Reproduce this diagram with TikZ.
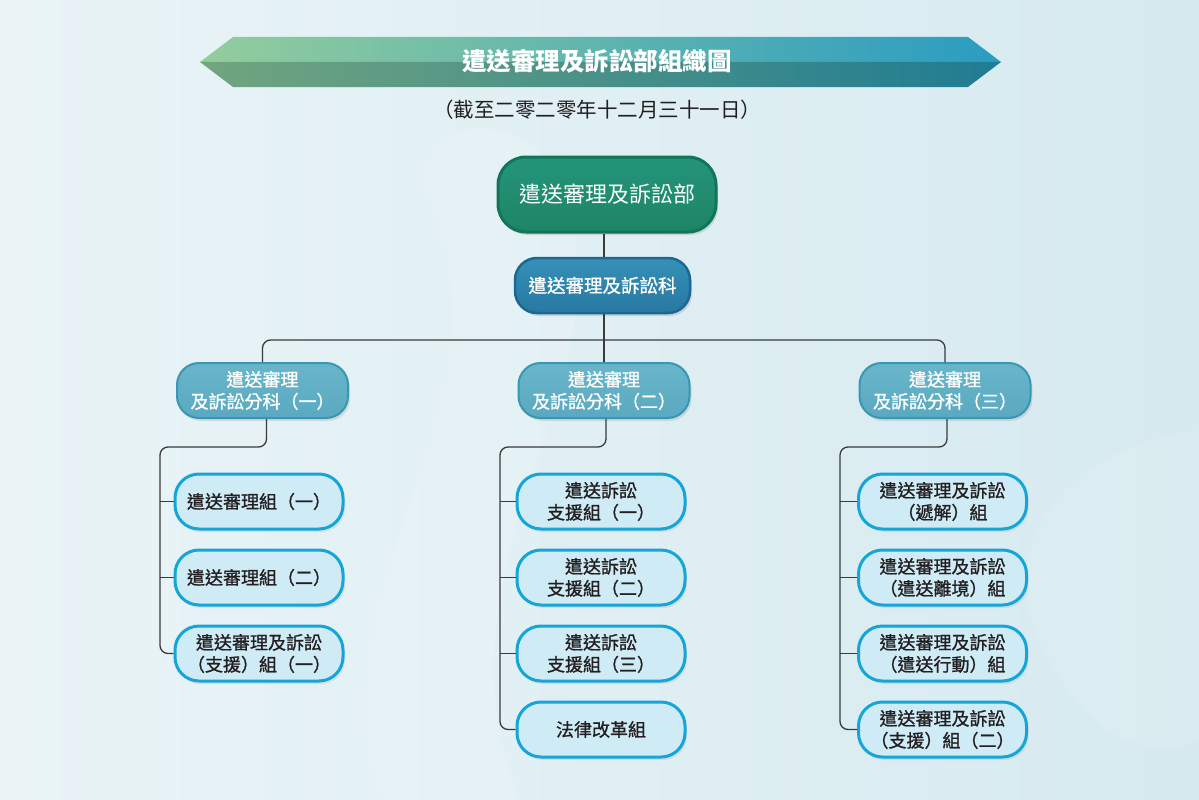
\documentclass[tikz,border=0pt]{standalone}
\usepackage{fontspec}
\setmainfont{Noto Sans CJK TC}
\newfontfamily\medcjk[FakeBold=1.1]{Noto Sans CJK TC}
\usetikzlibrary{shadows,calc}
\definecolor{bgA}{HTML}{EAF4F7}
\definecolor{bgB}{HTML}{D6EAF0}
\definecolor{conncol}{HTML}{3A3A3A}
\definecolor{deptfill}{HTML}{24957A}
\definecolor{deptfillB}{HTML}{1E8466}
\definecolor{deptdraw}{HTML}{117658}
\definecolor{secfill}{HTML}{3590B8}
\definecolor{secfillB}{HTML}{2878A2}
\definecolor{secdraw}{HTML}{1C6890}
\definecolor{divfill}{HTML}{69B6CB}
\definecolor{divfillB}{HTML}{5AA9C0}
\definecolor{divdraw}{HTML}{3897B2}
\definecolor{leaffill}{HTML}{CFEBF6}
\definecolor{leafdraw}{HTML}{16A5D7}
\definecolor{leaftext}{HTML}{231F20}
\definecolor{banTL}{HTML}{93CD9C}
\definecolor{banTR}{HTML}{2A9CC2}
\definecolor{banBL}{HTML}{72A57F}
\definecolor{banBR}{HTML}{1F7C92}
\tikzset{
  conn/.style={draw=conncol, line width=1.3pt, rounded corners=8pt},
  deptbox/.style={rounded corners=28pt, minimum width=218pt, minimum height=75pt,
     top color=deptfill, bottom color=deptfillB, draw=deptdraw, line width=3pt,
     text=white, font=\fontsize{22}{26}\selectfont,
     drop shadow={opacity=0.25, shadow xshift=2pt, shadow yshift=-3pt}},
  secbox/.style={rounded corners=22pt, minimum width=175pt, minimum height=55pt,
     top color=secfill, bottom color=secfillB, draw=secdraw, line width=2.5pt,
     text=white, font=\medcjk\fontsize{18.5}{22}\selectfont,
     drop shadow={opacity=0.25, shadow xshift=2pt, shadow yshift=-3pt}},
  divbox/.style={rounded corners=22pt, minimum width=171pt, minimum height=55pt,
     top color=divfill, bottom color=divfillB, draw=divdraw, line width=2pt,
     text=white, align=center, font=\medcjk\fontsize{18}{22}\selectfont,
     inner sep=1pt, xshift=0pt,
     drop shadow={opacity=0.2, shadow xshift=2pt, shadow yshift=-3pt}},
  leafbox/.style={rounded corners=24pt, minimum width=168pt, minimum height=55pt,
     fill=leaffill, draw=leafdraw, line width=3pt, inner sep=1pt,
     text=leaftext, align=center, font=\medcjk\fontsize{18}{22}\selectfont,
     drop shadow={opacity=0.15, shadow xshift=2pt, shadow yshift=-3pt}},
}
\begin{document}
\begin{tikzpicture}[x=1pt,y=-1pt]
\useasboundingbox (0,0) rectangle (1199,800);
% background
\shade[left color=bgA, right color=bgB] (0,0) rectangle (1199,800);
\fill[white, opacity=0.12] (380,800) .. controls (300,600) and (520,420) .. (430,200) .. controls (400,120) and (520,100) .. (560,180) .. controls (640,380) and (420,560) .. (520,800) -- cycle;
\fill[white, opacity=0.1] (1199,430) .. controls (1050,450) and (980,560) .. (1060,680) .. controls (1100,740) and (1150,760) .. (1199,740) -- cycle;
% banner
\shade[left color=banTL, right color=banTR] (200,62) -- (233,37) -- (968,37) -- (1001,62) -- cycle;
\shade[left color=banBL, right color=banBR] (200,62) -- (1001,62) -- (968,87) -- (233,87) -- cycle;
\node[text=white, font=\fontsize{24.5}{28}\selectfont\bfseries] (title) at (597,61) {遣送審理及訴訟部組織圖};
\node[text=leaftext, font=\fontsize{20.5}{24}\selectfont] (sub) at (597,110) {（截至二零二零年十二月三十一日）};
% connectors
\coordinate (bus) at (604,340);
\coordinate (ta) at (160,447);
\coordinate (tb) at (500,447);
\coordinate (tc) at (840,447);
% nodes
\node[deptbox] (dept) at (607,194.5) {遣送審理及訴訟部};
\node[secbox] (sec) at (602.5,285.5) {遣送審理及訴訟科};
\node[divbox] (d1) at (262.5,390.5) {遣送審理\\及訴訟分科（一）};
\node[divbox] (d2) at (604,390.5) {遣送審理\\及訴訟分科（二）};
\node[divbox] (d3) at (945,390.5) {遣送審理\\及訴訟分科（三）};
\node[leafbox] (a1) at (259,501.5) {遣送審理組（一）};
\node[leafbox] (a2) at (259,577.5) {遣送審理組（二）};
\node[leafbox] (a3) at (259,653.5) {遣送審理及訴訟\\（支援）組（一）};
\node[leafbox] (b1) at (601,501.5) {遣送訴訟\\支援組（一）};
\node[leafbox] (b2) at (601,577.5) {遣送訴訟\\支援組（二）};
\node[leafbox] (b3) at (601,653.5) {遣送訴訟\\支援組（三）};
\node[leafbox] (b4) at (601,729.5) {法律改革組};
\node[leafbox] (c1) at (942.5,501.5) {遣送審理及訴訟\\（遞解）組};
\node[leafbox] (c2) at (942.5,577.5) {遣送審理及訴訟\\（遣送離境）組};
\node[leafbox] (c3) at (942.5,653.5) {遣送審理及訴訟\\（遣送行動）組};
\node[leafbox] (c4) at (942.5,729.5) {遣送審理及訴訟\\（支援）組（二）};
\draw[conn] (dept.south -| bus) -- (sec.north -| bus);
\draw[conn] (sec.south -| bus) -- (bus);
\draw[conn] (d1.north) |- (bus) -| (d3.north);
\draw[conn] (bus) -- (d2.north);
\draw[conn] ([xshift=4pt]d1.south) |- (ta) |- (a3.west);
\draw[conn] (a1.west -| ta) -- (a1.west);
\draw[conn] (a2.west -| ta) -- (a2.west);
\draw[conn] ([xshift=2pt]d2.south) |- (tb) |- (b4.west);
\draw[conn] (b1.west -| tb) -- (b1.west);
\draw[conn] (b2.west -| tb) -- (b2.west);
\draw[conn] (b3.west -| tb) -- (b3.west);
\draw[conn] ([xshift=2pt]d3.south) |- (tc) |- (c4.west);
\draw[conn] (c1.west -| tc) -- (c1.west);
\draw[conn] (c2.west -| tc) -- (c2.west);
\draw[conn] (c3.west -| tc) -- (c3.west);
\end{tikzpicture}
\end{document}
